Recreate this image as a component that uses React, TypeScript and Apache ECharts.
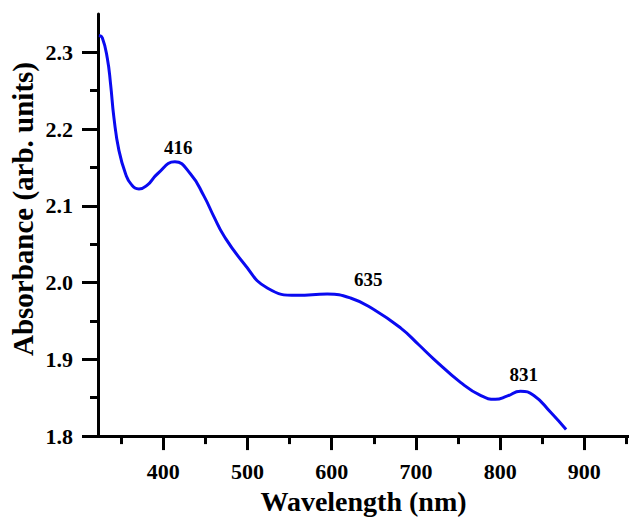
import React, { useEffect, useRef } from "react";
import * as echarts from "echarts";

const wavelength = [323.6, 327.6, 333.6, 337.5, 341.4, 347.4, 355.3, 362, 371.1, 381, 392.9, 413.8, 432.4, 448.2, 460.1, 472, 495.7, 523.5, 559.1, 594.7, 622.3, 650, 681.7, 703.4, 721.2, 752.9, 776.6, 794.4, 808, 824.1, 840, 859.7, 878.3];
const absorbance = [2.322, 2.319, 2.292, 2.258, 2.215, 2.172, 2.1415, 2.128, 2.122, 2.127, 2.1415, 2.1575, 2.1415, 2.113, 2.086, 2.061, 2.025, 1.993, 1.9835, 1.985, 1.98, 1.965, 1.941, 1.919, 1.9004, 1.87, 1.853, 1.848, 1.852, 1.8585, 1.853, 1.8314, 1.8087];

const peakText = ["416", "635", "831"];
const peakLabelX = [417.8, 643.3, 828];
const peakLabelY = [2.176, 2.004, 1.88];

const xMajorTicks = [400, 500, 600, 700, 800, 900];
const xMinorTicks = [350, 450, 550, 650, 750, 850, 950];
const yMajorTicks = [1.8, 1.9, 2.0, 2.1, 2.2, 2.3];
const yMinorTicks = [1.85, 1.95, 2.05, 2.15, 2.25];

const xMin = 322.5;
const xMax = 953;
const yMin = 1.8;
const yMax = 2.35;

const FONT = '"Times New Roman", "Liberation Serif", serif';

export default function App() {
  const ref = useRef<HTMLDivElement>(null);
  useEffect(() => {
    if (!ref.current) return;
    const chart = echarts.init(ref.current, undefined, { renderer: "svg" });
    const axisLine = { show: true, lineStyle: { color: "#000", width: 3 } };
    const labelStyle = { color: "#000", fontSize: 22, fontWeight: "bold" as const, fontFamily: FONT };
    chart.setOption({
      animation: false,
      backgroundColor: "#fff",
      grid: { left: 98, right: 0, top: 14, bottom: 79, containLabel: false },
      xAxis: [
        {
          type: "value", min: xMin, max: xMax, position: "bottom",
          axisLine,
          axisTick: { show: true, inside: false, length: 14, customValues: xMajorTicks, lineStyle: { color: "#000", width: 3 } },
          axisLabel: { show: true, customValues: xMajorTicks, margin: 24, formatter: (v: number) => String(Math.round(v)), ...labelStyle },
          splitLine: { show: false },
          name: "Wavelength (nm)", nameLocation: "middle", nameGap: 50,
          nameTextStyle: { color: "#000", fontSize: 28, fontWeight: "bold", fontFamily: FONT },
        },
        {
          type: "value", min: xMin, max: xMax, position: "bottom",
          axisLine: { show: false },
          axisTick: { show: true, inside: false, length: 8, customValues: xMinorTicks, lineStyle: { color: "#000", width: 3 } },
          axisLabel: { show: false },
          splitLine: { show: false },
        },
      ],
      yAxis: [
        {
          type: "value", min: yMin, max: yMax, position: "left",
          axisLine,
          axisTick: { show: true, inside: false, length: 16, customValues: yMajorTicks, lineStyle: { color: "#000", width: 3 } },
          axisLabel: { show: true, customValues: yMajorTicks, margin: 25, formatter: (v: number) => v.toFixed(1), ...labelStyle },
          splitLine: { show: false },
        },
        {
          type: "value", min: yMin, max: yMax, position: "left",
          axisLine: { show: false },
          axisTick: { show: true, inside: false, length: 8, customValues: yMinorTicks, lineStyle: { color: "#000", width: 3 } },
          axisLabel: { show: false },
          splitLine: { show: false },
        },
      ],
      graphic: [
        {
          type: "text", x: 23, y: 209, rotation: Math.PI / 2,
          style: { text: "Absorbance (arb. units)", fill: "#000", fontSize: 29, fontWeight: "bold", fontFamily: FONT, align: "center", verticalAlign: "middle" },
        },
      ],
      series: [
        {
          type: "line",
          xAxisIndex: 0, yAxisIndex: 0,
          data: wavelength.map((w, i) => [w, absorbance[i]]),
          showSymbol: false, symbol: "none",
          smooth: 0.5,
          lineStyle: { color: "#0a0af0", width: 3 },
        },
        {
          type: "scatter",
          xAxisIndex: 0, yAxisIndex: 0,
          data: peakText.map((t, i) => ({ value: [peakLabelX[i], peakLabelY[i]], name: t })),
          symbolSize: 0,
          itemStyle: { color: "#000", opacity: 1 },
          emphasis: { disabled: true },
          label: {
            show: true, position: "inside", formatter: (p: any) => p.name,
            color: "#000", opacity: 1, textBorderWidth: 0, fontSize: 19, fontWeight: "bold", fontFamily: FONT,
          },
        },
      ],
    });
    return () => chart.dispose();
  }, []);
  return <div ref={ref} style={{ position: "fixed", left: 0, top: 0, width: 629, height: 520 }} />;
}
